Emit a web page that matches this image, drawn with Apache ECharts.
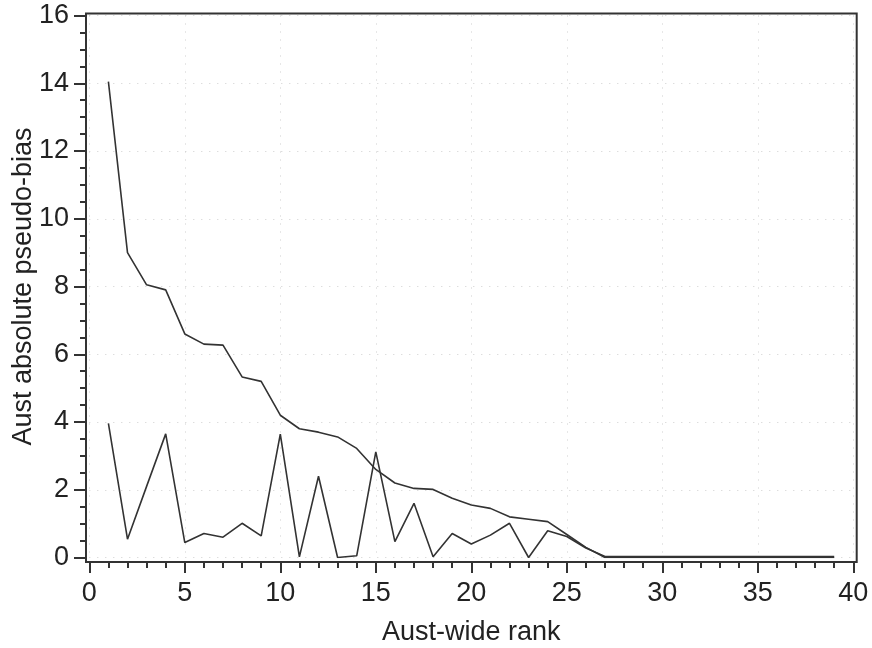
<!DOCTYPE html>
<html>
<head>
<meta charset="utf-8">
<script src="https://cdn.jsdelivr.net/npm/echarts@6/dist/echarts.min.js"></script>
<style>
  html, body { margin: 0; padding: 0; background: #fff; }
  #chart { width: 872px; height: 648px; }
</style>
</head>
<body>
<div id="chart"></div>
<script>
// Aust-wide rank (x) for each region
const ranks = [];
for (let r = 1; r <= 39; r++) ranks.push(r);

// Upper curve: absolute pseudo-bias, sorted decreasing
const upperBias = [14.05, 9.0, 8.05, 7.9, 6.6, 6.3, 6.27, 5.33, 5.2, 4.2,
  3.8, 3.7, 3.56, 3.22, 2.6, 2.2, 2.04, 2.01, 1.75, 1.55,
  1.45, 1.2, 1.13, 1.06, 0.68, 0.3, 0, 0, 0, 0,
  0, 0, 0, 0, 0, 0, 0, 0, 0];

// Lower curve: absolute pseudo-bias per rank
const lowerBias = [3.96, 0.54, 2.1, 3.65, 0.44, 0.71, 0.6, 1.01, 0.64, 3.64,
  0.02, 2.4, 0.0, 0.05, 3.12, 0.47, 1.6, 0.02, 0.71, 0.4,
  0.66, 1.01, 0.0, 0.79, 0.62, 0.28, 0.03, 0.03, 0.03, 0.03,
  0.03, 0.03, 0.03, 0.03, 0.03, 0.03, 0.03, 0.03, 0.03];

const xTicks = { min: 0, max: 40, step: 5 };
const yTicks = { min: 0, max: 16, step: 2 };

const pair = (xs, ys) => xs.map((x, i) => [x, ys[i]]);

const FONT = '"Liberation Sans", Arial, sans-serif';
const INK = '#222';

const chart = echarts.init(document.getElementById('chart'), null, { renderer: 'canvas' });

const gridLine = { show: true, lineStyle: { color: '#cfcfcf', width: 1, type: [1, 7] } };

chart.setOption({
  animation: false,
  backgroundColor: '#fff',
  grid: [
    { left: 89.3, right: 18.7, top: 15.5, bottom: 90.5, containLabel: false, outerBoundsMode: 'none' },
    { left: 86, right: 15.3, top: 13.5, bottom: 86, containLabel: false, outerBoundsMode: 'none',
      show: true, borderColor: '#333', borderWidth: 2, backgroundColor: 'transparent' }
  ],
  xAxis: [{
    type: 'value', gridIndex: 0,
    min: xTicks.min, max: xTicks.max, interval: xTicks.step,
    offset: 4.5,
    name: 'Aust-wide rank', nameLocation: 'middle', nameGap: 57, nameMoveOverlap: false,
    nameTextStyle: { fontFamily: FONT, fontSize: 27, color: INK },
    axisLine: { show: true, onZero: false, lineStyle: { color: '#333', width: 2 } },
    axisTick: { show: true, length: 11, lineStyle: { color: '#333', width: 2 } },
    minorTick: { show: true, splitNumber: 5, length: 6, lineStyle: { color: '#333', width: 2 } },
    axisLabel: { fontFamily: FONT, fontSize: 27, color: INK, margin: 18 },
    splitLine: gridLine
  }, {
    type: 'value', gridIndex: 1, show: false, min: 0, max: 1
  }],
  yAxis: [{
    type: 'value', gridIndex: 0,
    min: yTicks.min, max: yTicks.max, interval: yTicks.step,
    offset: 3.3,
    name: 'Aust absolute pseudo-bias', nameLocation: 'middle', nameGap: 49, nameMoveOverlap: false,
    nameTextStyle: { fontFamily: FONT, fontSize: 27, color: INK },
    axisLine: { show: true, onZero: false, lineStyle: { color: '#333', width: 2 } },
    axisTick: { show: true, length: 12, lineStyle: { color: '#333', width: 2 } },
    minorTick: { show: true, splitNumber: 4, length: 6, lineStyle: { color: '#333', width: 2 } },
    axisLabel: { fontFamily: FONT, fontSize: 27, color: INK, margin: 17 },
    splitLine: gridLine
  }, {
    type: 'value', gridIndex: 1, show: false, min: 0, max: 1
  }],
  series: [{
    type: 'line', xAxisIndex: 0, yAxisIndex: 0,
    data: pair(ranks, upperBias),
    showSymbol: false, symbol: 'none',
    lineStyle: { color: '#333', width: 1.6 }
  }, {
    type: 'line', xAxisIndex: 0, yAxisIndex: 0,
    data: pair(ranks, lowerBias),
    showSymbol: false, symbol: 'none',
    lineStyle: { color: '#333', width: 1.6 }
  }]
});
</script>
</body>
</html>
